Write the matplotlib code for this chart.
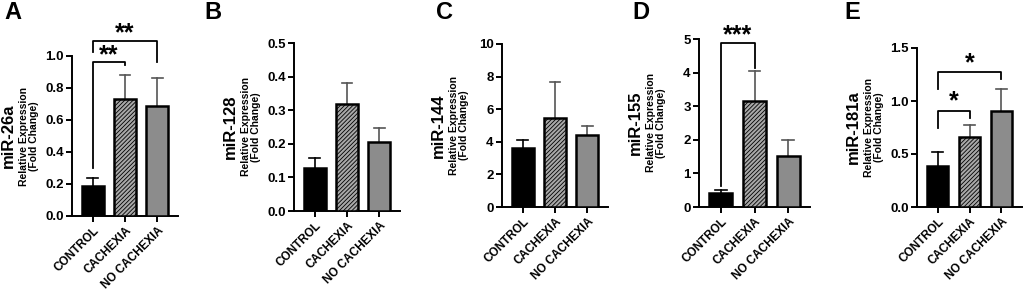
import matplotlib
matplotlib.use("Agg")
import matplotlib.pyplot as plt

plt.rcParams['font.family'] = ['Liberation Sans', 'DejaVu Sans']
plt.rcParams['font.weight'] = 'bold'
plt.rcParams['hatch.linewidth'] = 0.6

groups = ["CONTROL", "CACHEXIA", "NO CACHEXIA"]
letters = ["A", "B", "C", "D", "E"]
mirnas = ["miR-26a", "miR-128", "miR-144", "miR-155", "miR-181a"]

# mean values and upper error (mean + sd)
means = [
    [0.19, 0.73, 0.69],
    [0.127, 0.318, 0.205],
    [3.65, 5.45, 4.4],
    [0.42, 3.15, 1.52],
    [0.39, 0.665, 0.905],
]
err_top = [
    [0.235, 0.88, 0.86],
    [0.158, 0.382, 0.247],
    [4.1, 7.65, 5.0],
    [0.5, 4.05, 2.0],
    [0.52, 0.77, 1.11],
]
ymax = [1.0, 0.5, 10, 5, 1.5]
yticks = [
    [0.0, 0.2, 0.4, 0.6, 0.8, 1.0],
    [0.0, 0.1, 0.2, 0.3, 0.4, 0.5],
    [0, 2, 4, 6, 8, 10],
    [0, 1, 2, 3, 4, 5],
    [0.0, 0.5, 1.0, 1.5],
]
ytick_fmt = ["{:.1f}", "{:.1f}", "{:.0f}", "{:.0f}", "{:.1f}"]

# significance brackets: (panel, i, j, y_bar, y_left_end, y_right_end, stars, y_star)
brackets = [
    (0, 0, 2, 1.094, 1.025, 0.96, "**", 1.14),
    (0, 0, 1, 0.96, 0.30, 0.945, "**", 1.005),
    (3, 0, 1, 4.88, 0.62, 4.14, "***", 5.1),
    (4, 0, 2, 1.27, 1.11, 1.21, "*", 1.36),
    (4, 0, 1, 0.91, 0.75, 0.84, "*", 1.0),
]

# axes boxes in pixels: left, right, top (at ymax), bottom (at 0)
boxes = [
    (72, 178, 56, 216),
    (294, 400, 43, 211),
    (502, 608, 44, 207),
    (699, 810, 39, 207),
    (917, 1022, 48, 207),
]
letter_x = [4, 204, 436, 632, 844]

W, H = 1024, 293
fig = plt.figure(figsize=(W / 100, H / 100), dpi=100)

colors = ["black", "#a8a8a8", "#8c8c8c"]
hatches = [None, "////////", None]
err_colors = ["black", "#555555", "#555555"]

axes = []
for k in range(5):
    l, r, t, b = boxes[k]
    ax = fig.add_axes([l / W, 1 - b / H, (r - l) / W, (b - t) / H])
    axes.append(ax)
    x = list(range(3))
    for i in x:
        ax.bar(i, means[k][i], width=0.68, color=colors[i], edgecolor="black",
               linewidth=1.8, hatch=hatches[i], zorder=3)
        ax.plot([i, i], [means[k][i], err_top[k][i]], color=err_colors[i], lw=1.2, zorder=2)
        ax.plot([i - 0.17, i + 0.17], [err_top[k][i]] * 2, color=err_colors[i], lw=1.2, zorder=2)
    ax.set_xlim(-0.65, 2.65)
    ax.set_ylim(0, ymax[k])
    ax.set_yticks(yticks[k])
    ax.set_yticklabels([ytick_fmt[k].format(v) for v in yticks[k]], fontsize=9.5, fontweight="bold")
    ax.set_xticks(x)
    ax.set_xticklabels(groups, rotation=45, ha="right", rotation_mode="anchor",
                       fontsize=8.5, fontweight="bold")
    ax.spines["top"].set_visible(False)
    ax.spines["right"].set_visible(False)
    ax.spines["left"].set_linewidth(1.4)
    ax.spines["bottom"].set_linewidth(1.4)
    ax.tick_params(axis="both", direction="out", width=1.4, length=4, pad=2)
    ax.patch.set_alpha(0)

    wpx = r - l
    ax.text(-64 / wpx, 0.5, mirnas[k], transform=ax.transAxes, rotation=90,
            ha="center", va="center", fontsize=12, fontweight="bold")
    ax.text(-43 / wpx, 0.5, "Relative Expression\n(Fold Change)", transform=ax.transAxes,
            rotation=90, ha="center", va="center", fontsize=7.5, fontweight="bold",
            linespacing=1.1)
    fig.text(letter_x[k] / W, 1 - 1 / H, letters[k], ha="left", va="top",
             fontsize=17, fontweight="bold")

for p, i, j, yb, yl, yr, stars, ys in brackets:
    ax = axes[p]
    ax.plot([i, i, j, j], [yl, yb, yb, yr], color="black", lw=1.3, clip_on=False, zorder=4)
    ax.text((i + j) / 2, ys, stars, ha="center", va="center", fontsize=18,
            fontweight="bold", clip_on=False)

fig.savefig("out.png", dpi=100)
